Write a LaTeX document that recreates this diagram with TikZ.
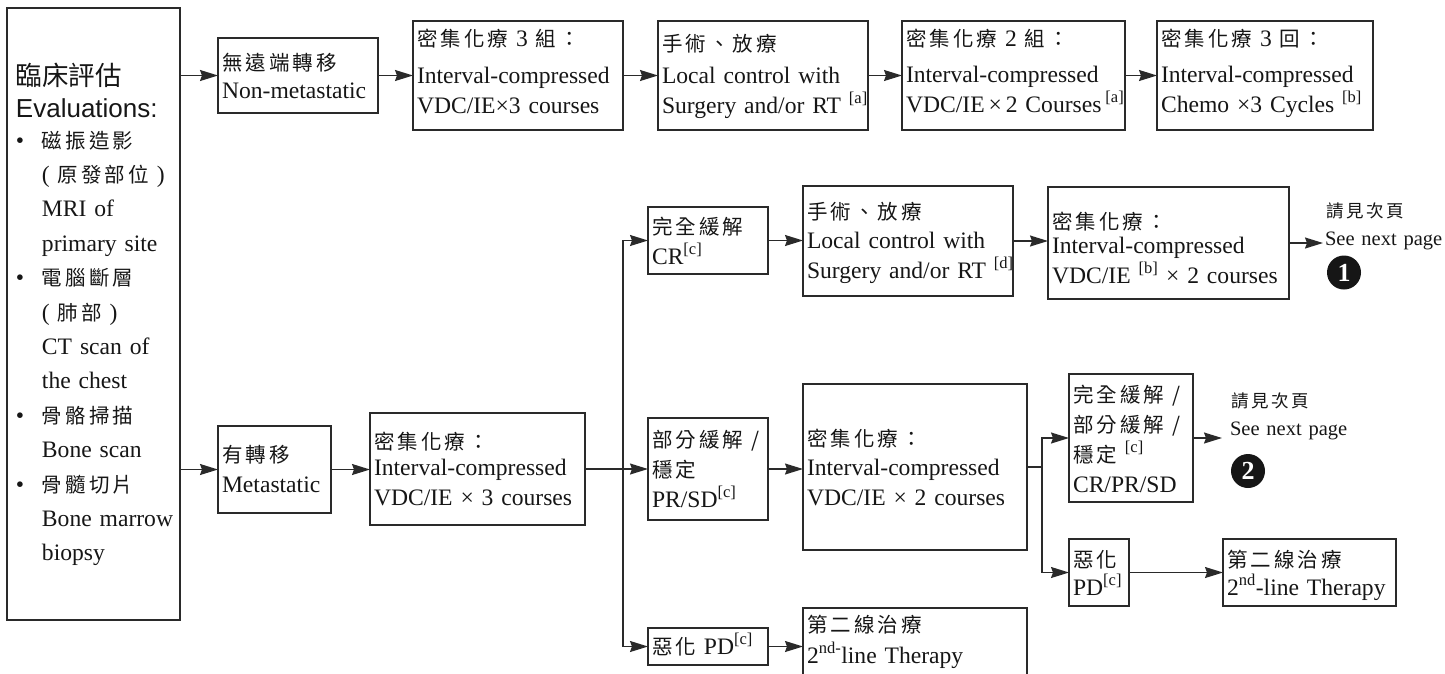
\documentclass[tikz,border=0pt]{standalone}
\usepackage{fontspec}
\setmainfont{Liberation Serif}
\newfontfamily\cjk[LetterSpace=15]{Noto Sans CJK TC}
\newfontfamily\cjktitle{Noto Sans CJK TC}
\newfontfamily\sansfont{Liberation Sans}
\usetikzlibrary{arrows.meta}

% CJK text inside the boxes, and the smaller CJK of the page references
\newcommand\zh[1]{{\cjk\fontsize{20.5}{30}\selectfont #1}}
\newcommand\zhs[1]{{\cjk\fontsize{17.5}{30}\selectfont #1}}

\definecolor{ink}{HTML}{161616}
\definecolor{edge}{HTML}{2A2A2A}

\tikzset{
  box/.style={draw=edge, line width=1.5pt, inner sep=0pt, outer sep=0pt, rectangle},
  txt/.style={inner sep=0pt, outer sep=0pt, text width=300pt, align=left,
               anchor=base west, text=ink, font=\fontsize{23.6}{30}\selectfont},
  arr/.style={draw=edge, line width=1.4pt, -{Stealth[length=18pt,width=11pt,inset=2pt]}},
  link/.style={draw=edge, line width=1.4pt},
  marker/.style={circle, fill=ink, minimum size=34pt, inner sep=0pt, text=white,
                 font=\bfseries\fontsize{26}{26}\selectfont},
}

% empty frame from (x1,y1) to (x2,y2), y measured downwards
\newcommand\flowbox[5]{%
  \node[box, anchor=north west, minimum width={(#4-#2)*1pt},
        minimum height={(#5-#3)*1pt}] (#1) at (#2,#3) {};}

\begin{document}
\begin{tikzpicture}[x=1pt, y=-1pt]
\useasboundingbox (0,0) rectangle (1445,673);
\clip (0,0) rectangle (1445,673);

% ---- frames ----
\flowbox{eval}{7}{8}{180}{620}
\flowbox{nonmet}{218}{38}{378}{113}
\flowbox{ic3}{413}{21}{623}{130}
\flowbox{loc1}{658}{21}{868}{130}
\flowbox{ic2}{902}{21}{1125}{130}
\flowbox{ic3c}{1157}{21}{1373}{130}
\flowbox{met}{218}{426}{331}{513}
\flowbox{icm}{370}{413}{585}{525}
\flowbox{cr}{648}{207}{768}{274}
\flowbox{loc2}{803}{186}{1013}{296}
\flowbox{icb}{1048}{187}{1289}{299}
\flowbox{prsd}{648}{418}{768}{520}
\flowbox{ic2b}{803}{384}{1027}{550}
\flowbox{crprsd}{1069}{374}{1193}{502}
\flowbox{pd2}{1069}{539}{1129}{606}
\flowbox{sec2}{1223}{539}{1396}{606}
\flowbox{pd1}{648}{628}{768}{665}
\flowbox{sec1}{803}{608}{1027}{700}

% ---- evaluation list ----
\node[txt, font=\cjktitle\fontsize{26.5}{30}\selectfont] (ev-title) at (16,85) {臨床評估};
\node[txt, font=\sansfont\fontsize{26}{30}\selectfont] (ev-sub) at (16,117) {Evaluations:};
\node[txt, font=\fontsize{23.6}{34.4}\selectfont] (ev-list) at (16,148) {%
  \makebox[26pt][l]{\textbullet}\zh{磁振造影}\\
  \hspace*{26pt}( \zh{原發部位} )\\
  \hspace*{26pt}MRI of\\
  \hspace*{26pt}primary site\\
  \makebox[26pt][l]{\textbullet}\zh{電腦斷層}\\
  \hspace*{26pt}( \zh{肺部} )\\
  \hspace*{26pt}CT scan of\\
  \hspace*{26pt}the chest\\
  \makebox[26pt][l]{\textbullet}\zh{骨骼掃描}\\
  \hspace*{26pt}Bone scan\\
  \makebox[26pt][l]{\textbullet}\zh{骨髓切片}\\
  \hspace*{26pt}Bone marrow\\
  \hspace*{26pt}biopsy};

% ---- box texts ----
\node[txt] (nonmet-t) at (222,70) {\zh{無遠端轉移}\\[-2pt] Non-metastatic};
\node[txt] (ic3-t) at (417,46) {\zh{密集化療} 3 \zh{組：}\\[7pt] Interval-compressed\\ VDC/IE×3 courses};
\node[txt] (loc1-t) at (662,51) {\zh{手術、放療}\\[2pt] Local control with\\ Surgery and/or RT \textsuperscript{[a]}};
\node[txt] (ic2-t) at (906,46) {\zh{密集化療} 2 \zh{組：}\\[6pt] Interval-compressed\\ VDC/IE\,×\,2 Courses\,\textsuperscript{[a]}};
\node[txt] (ic3c-t) at (1161,46) {\zh{密集化療} 3 \zh{回：}\\[6pt] Interval-compressed\\ Chemo ×3 Cycles \textsuperscript{[b]}};
\node[txt] (met-t) at (222,462) {\zh{有轉移}\\ Metastatic};
\node[txt] (icm-t) at (374,449) {\zh{密集化療：}\\[-4pt] Interval-compressed\\ VDC/IE × 3 courses};
\node[txt] (cr-t) at (652,234) {\zh{完全緩解}\\ CR\textsuperscript{[c]}};
\node[txt] (loc2-t) at (807,219) {\zh{手術、放療}\\[-1pt] Local control with\\ Surgery and/or RT \textsuperscript{[d]}};
\node[txt] (icb-t) at (1052,229) {\zh{密集化療：}\\[-6pt] Interval-compressed\\ VDC/IE \textsuperscript{[b]} × 2 courses};
\node[txt] (prsd-t) at (652,447) {\zh{部分緩解 /}\\ \zh{穩定}\\ PR/SD\textsuperscript{[c]}};
\node[txt] (ic2b-t) at (807,446) {\zh{密集化療：}\\[-1pt] Interval-compressed\\ VDC/IE × 2 courses};
\node[txt] (crprsd-t) at (1073,402) {\zh{完全緩解 /}\\ \zh{部分緩解 /}\\ \zh{穩定} \textsuperscript{[c]}\\ CR/PR/SD};
\node[txt] (pd2-t) at (1073,567) {\zh{惡化}\\[-2pt] PD\textsuperscript{[c]}};
\node[txt] (sec2-t) at (1227,567) {\zh{第二線治療}\\[-2pt] 2\textsuperscript{nd}-line Therapy};
\node[txt] (pd1-t) at (652,654) {\zh{惡化} PD\textsuperscript{[c]}};
\node[txt] (sec1-t) at (807,632) {\zh{第二線治療}\\[1pt] 2\textsuperscript{nd-}line Therapy};

% ---- page references ----
\node[txt] (nx1-zh) at (1326,217) {\zhs{請見次頁}};
\node[txt, font=\fontsize{20.5}{30}\selectfont] (nx1-en) at (1325,245) {See next page};
\node[marker] (nx1-num) at (1344,272.5) {1};
\node[txt] (nx2-zh) at (1231,407) {\zhs{請見次頁}};
\node[txt, font=\fontsize{20.5}{30}\selectfont] (nx2-en) at (1230,435) {See next page};
\node[marker] (nx2-num) at (1248,471) {2};

% ---- connectors ----
\draw[arr] (eval.east |- nonmet.west) -- (nonmet.west);
\draw[arr] (eval.east |- met.west) -- (met.west);
\draw[arr] (nonmet.east) -- (ic3.west |- nonmet.east);
\draw[arr] (ic3.east) -- (loc1.west);
\draw[arr] (loc1.east) -- (ic2.west);
\draw[arr] (ic2.east) -- (ic3c.west);
\draw[arr] (met.east) -- (icm.west |- met.east);

\coordinate (br1) at (623,469);
\draw[link] (icm.east) -- (br1);
\draw[arr] (br1) |- (cr.west);
\draw[arr] (br1) |- (prsd.west);
\draw[arr] (br1) |- (pd1.west);
\draw[arr] (cr.east) -- (loc2.west |- cr.east);
\draw[arr] (loc2.east) -- (icb.west |- loc2.east);
\coordinate (nx1) at (1323,243);
\draw[arr] (icb.east) -- (nx1);

\draw[arr] (prsd.east) -- (ic2b.west |- prsd.east);
\coordinate (br2) at (1042,467);
\draw[link] (ic2b.east) -- (br2);
\draw[arr] (br2) |- (crprsd.west);
\draw[arr] (br2) |- (pd2.west);
\coordinate (nx2) at (1222,438);
\draw[arr] (crprsd.east) -- (nx2);
\draw[arr] (pd2.east) -- (sec2.west);
\draw[arr] (pd1.east) -- (sec1.west |- pd1.east);
\end{tikzpicture}
\end{document}
